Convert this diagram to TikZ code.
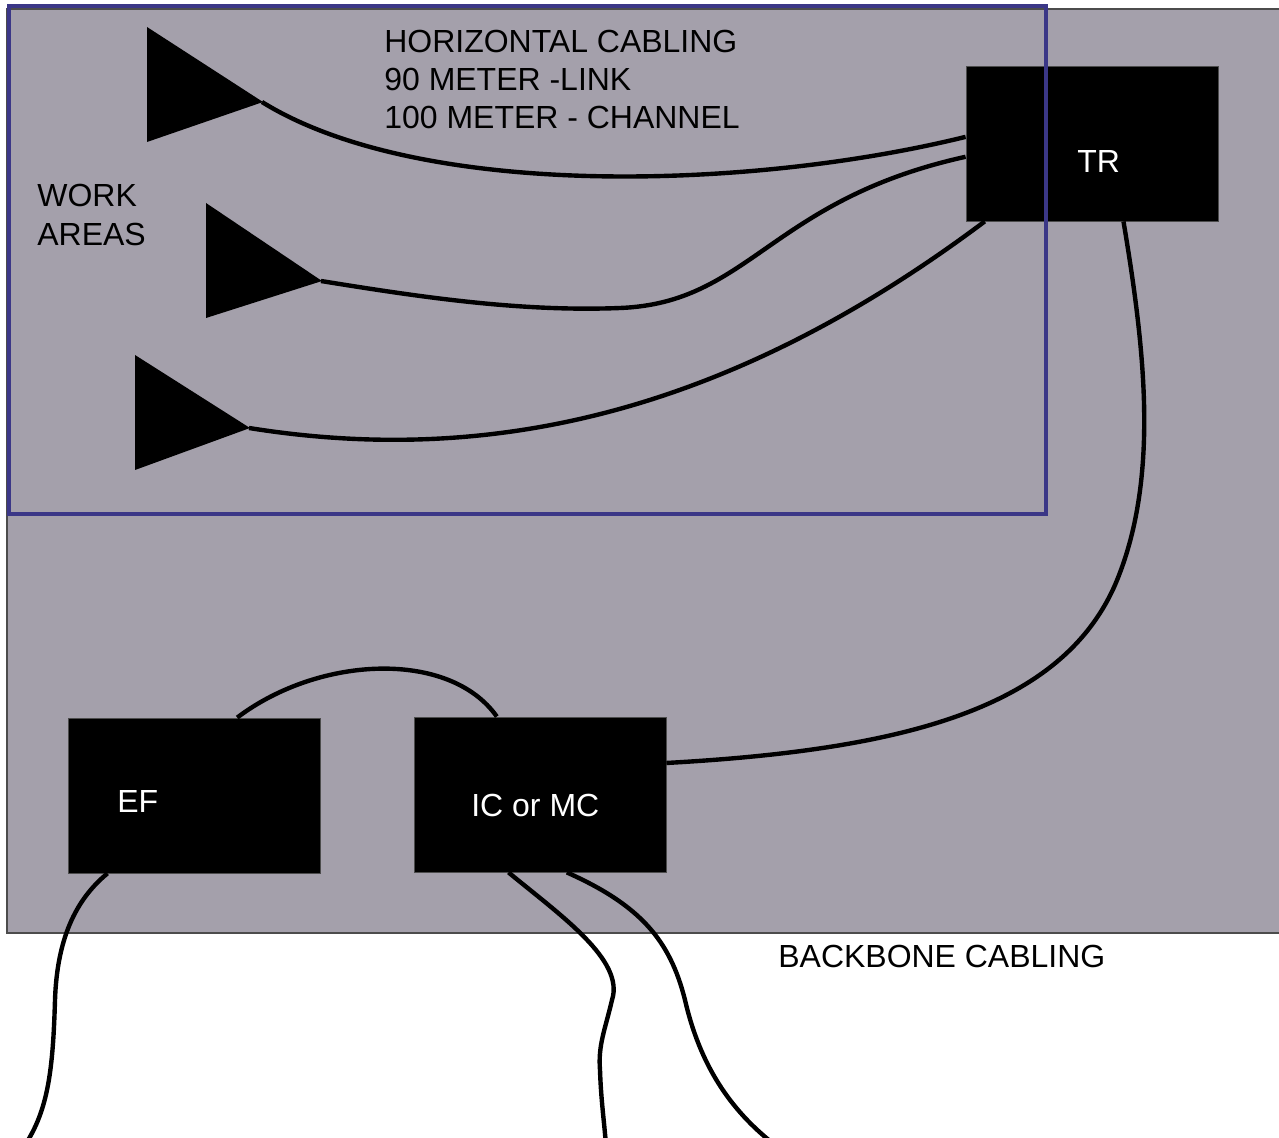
\documentclass[tikz,border=0pt]{standalone}
\usepackage{fontspec}
\setmainfont{Liberation Sans}
\usetikzlibrary{calc}
\definecolor{bggray}{HTML}{A4A0AB}
\definecolor{wablue}{HTML}{3B3787}
\begin{document}
\begin{tikzpicture}[x=0.02cm,y=-0.02cm,
  box/.style={draw=black!70, line width=0.5pt, fill=black, minimum width=5.04cm, minimum height=3.1cm, inner sep=0pt},
  cable/.style={line width=2.5pt, draw=black},
  lbl/.style={anchor=base west, inner sep=0pt, font=\fontsize{18.2}{21}\selectfont},
  wlbl/.style={lbl, text=white},
  wedge/.style={fill=black},
  area/.style={draw=wablue, line width=2.8pt}]
\useasboundingbox (0,0) rectangle (1279,1138);
\clip (0,0) rectangle (1279,1138);
\fill[white] (0,0) rectangle (1279,1138);
\filldraw[fill=bggray, draw=black!70, line width=0.6pt] (7,9) rectangle (1295,933);
% equipment boxes
\node[box] (tr) at (1092,143.5) {};
\node[box] (ef) at (194,795.5) {};
\node[box] (ic) at (540,794.5) {};
% work-area outlets
\fill[wedge] (147,27) -- (263,102) -- (147,142) -- cycle;
\fill[wedge] (206,203) -- (322,281) -- (206,318) -- cycle;
\fill[wedge] (135,355) -- (250,428) -- (135,470) -- cycle;
\coordinate (w1) at (262,102);
\coordinate (w2) at (321,281);
\coordinate (w3) at (249,428);
% horizontal cabling
\draw[cable] (w1) .. controls (420,200) and (750,190) .. (tr.177);
\draw[cable] (w2) .. controls (420,297) and (520,312) .. (620,308) .. controls (750,303) and (770,200) .. (tr.186);
\draw[cable] (w3) .. controls (480,465) and (720,420) .. (tr.216);
% backbone cabling
\draw[cable] (tr.292) .. controls (1145,350) and (1160,480) .. (1115,585) .. controls (1060,710) and (900,750) .. (ic.14.5);
\draw[cable] (ef.61.5) .. controls (320,655) and (450,650) .. (ic.119);
\coordinate (e1) at (25,1145);
\coordinate (e2) at (606,1145);
\coordinate (e3) at (775,1145);
\draw[cable] (ef.222) .. controls (75,900) and (57,940) .. (55,1000) .. controls (53,1070) and (48,1110) .. (e1);
\draw[cable] (ic.248) .. controls (560,915) and (625,960) .. (612,1000) .. controls (605,1030) and (598,1045) .. (600,1070) .. controls (601,1100) and (604,1120) .. (e2);
\draw[cable] (ic.289) .. controls (640,905) and (670,940) .. (685,1000) .. controls (700,1065) and (730,1110) .. (e3);
% work area outline
\draw[area] (9,6) rectangle (1046,514);
% labels
\node[lbl] (h1) at (384,53) {HORIZONTAL CABLING};
\node[lbl] (h2) at (384,91) {90 METER -LINK};
\node[lbl] (h3) at (384,129) {100 METER - CHANNEL};
\node[lbl] (wa1) at (37,207) {WORK};
\node[lbl] (wa2) at (37,246) {AREAS};
\node[wlbl] (trl) at (1077,173) {TR};
\node[wlbl] (efl) at (117,812) {EF};
\node[wlbl] (icl) at (471,816) {IC or MC};
\node[lbl] (bb) at (778,967) {BACKBONE CABLING};
\end{tikzpicture}
\end{document}
